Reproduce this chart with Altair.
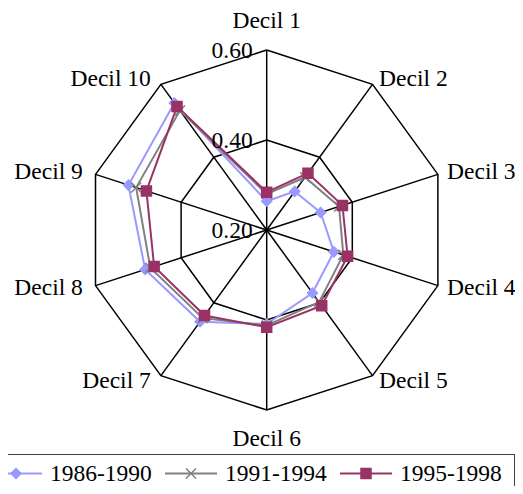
import altair as alt
import pandas as pd

# ---------------- data ----------------
categories = ["Decil 1", "Decil 2", "Decil 3", "Decil 4", "Decil 5",
              "Decil 6", "Decil 7", "Decil 8", "Decil 9", "Decil 10"]
series_names = ["1986-1990", "1991-1994", "1995-1998"]
v_1986_1990 = [0.264, 0.306, 0.326, 0.357, 0.373, 0.409, 0.452, 0.484, 0.523, 0.549]
v_1991_1994 = [0.280, 0.345, 0.369, 0.379, 0.398, 0.412, 0.442, 0.472, 0.505, 0.528]
v_1995_1998 = [0.284, 0.356, 0.377, 0.389, 0.408, 0.416, 0.435, 0.463, 0.481, 0.539]
ticks = [0.20, 0.40, 0.60]
tick_labels = ["0.20", "0.40", "0.60"]

colors = ["#9999FF", "#808080", "#993366"]
shapes = ["diamond", "M-1,-1L1,1M-1,1L1,-1", "square"]
FONT = "Liberation Serif"
FS = 23.5

N = len(categories)
R_MIN, R_MAX = ticks[0], ticks[-1]

# ---------------- tables ----------------
rows = []
for name, vals in zip(series_names, [v_1986_1990, v_1991_1994, v_1995_1998]):
    for k in range(N + 1):
        rows.append({"series": name, "k": k, "value": vals[k % N]})
series_df = pd.DataFrame(rows)

ring_rows = []
for lvl in ticks[1:]:
    for k in range(N + 1):
        ring_rows.append({"level": lvl, "k": k})
ring_df = pd.DataFrame(ring_rows)

cat_df = pd.DataFrame({"k": list(range(N)), "label": categories})
tick_df = pd.DataFrame({"level": ticks, "label": tick_labels})
legend_df = pd.DataFrame({"series": series_names, "i": list(range(len(series_names)))})

# ---------------- geometry (px per radial unit) ----------------
W, H = 507, 478
CX, CY, RPX = 258.7, 222.0, 180.0
xdom = [-CX / RPX, (W - CX) / RPX]
ydom = [-(H - CY) / RPX, CY / RPX]
xs = alt.Scale(domain=xdom, nice=False, zero=False)
ys = alt.Scale(domain=ydom, nice=False, zero=False)

ANG = f"datum.k * 2 * PI / {N}"
RAD = f"(datum.value - {R_MIN}) / ({R_MAX} - {R_MIN})"

color_scale = alt.Scale(domain=series_names, range=colors)
shape_scale = alt.Scale(domain=series_names, range=shapes)

X = lambda f: alt.X(f, scale=xs, axis=None)
Y = lambda f: alt.Y(f, scale=ys, axis=None)

rings = alt.Chart(ring_df).transform_calculate(
    r=f"(datum.level - {R_MIN}) / ({R_MAX} - {R_MIN})",
    ang=ANG,
).transform_calculate(
    x="datum.r * sin(datum.ang)", y="datum.r * cos(datum.ang)"
).mark_line(color="black", strokeWidth=1.5).encode(
    x=X("x:Q"), y=Y("y:Q"), detail="level:N", order="k:Q",
)

spokes = alt.Chart(cat_df).transform_calculate(
    ang=ANG, x0="0", y0="0"
).transform_calculate(
    x="sin(datum.ang)", y="cos(datum.ang)"
).mark_rule(color="black", strokeWidth=1.5).encode(
    x=X("x0:Q"), y=Y("y0:Q"), x2="x:Q", y2="y:Q",
)

tick_text = alt.Chart(tick_df).transform_calculate(
    x="0", y=f"(datum.level - {R_MIN}) / ({R_MAX} - {R_MIN})"
).mark_text(font=FONT, fontSize=FS, align="right", baseline="middle",
            dx=-14, dy=1, color="black").encode(
    x=X("x:Q"), y=Y("y:Q"), text="label:N",
)


def cat_labels(filter_expr, align, roff, dx):
    return alt.Chart(cat_df).transform_calculate(
        ang=ANG
    ).transform_filter(filter_expr).transform_calculate(
        x=f"(1 + {roff}) * sin(datum.ang)", y=f"(1 + {roff}) * cos(datum.ang)"
    ).mark_text(font=FONT, fontSize=FS, align=align, baseline="middle",
                dx=dx, color="black").encode(
        x=X("x:Q"), y=Y("y:Q"), text="label:N",
    )


lab_c = cat_labels("abs(sin(datum.ang)) < 0.01", "center", 29 / RPX, 0)
lab_r = cat_labels("sin(datum.ang) >= 0.01", "left", 7 / RPX, 2.5)
lab_l = cat_labels("sin(datum.ang) <= -0.01", "right", 7 / RPX, -6)

series_base = alt.Chart(series_df).transform_calculate(
    ang=ANG, r=RAD
).transform_calculate(
    x="datum.r * sin(datum.ang)", y="datum.r * cos(datum.ang)"
)

lines = series_base.mark_line(strokeWidth=2).encode(
    x=X("x:Q"), y=Y("y:Q"),
    color=alt.Color("series:N", scale=color_scale, legend=None),
    order="k:Q",
)

points = series_base.transform_filter(f"datum.k < {N}").mark_point(
    filled=True, opacity=1, size=100, strokeWidth=1.5
).encode(
    x=X("x:Q"), y=Y("y:Q"),
    fill=alt.Fill("series:N", scale=color_scale, legend=None),
    stroke=alt.Stroke("series:N", scale=color_scale, legend=None),
    shape=alt.Shape("series:N", scale=shape_scale, legend=None),
)

# ---------------- legend (inside the same view) ----------------
STEP = 175
LEG_TOP = 446
LEG_MID = 465.5
LEG_BASE = 472.5
leg_base = alt.Chart(legend_df).transform_calculate(
    x1=f"(max(0, datum.i * {STEP} - 18) - {CX}) / {RPX}",
    x2=f"(datum.i * {STEP} + 34 - {CX}) / {RPX}",
    mx=f"(datum.i * {STEP} + 8 - {CX}) / {RPX}",
    tx=f"(datum.i * {STEP} + 42 - {CX}) / {RPX}",
)
frame_top = alt.Chart(legend_df).mark_rule(color="#404040", strokeWidth=1).encode(
    x=alt.value(0), x2=alt.value(W), y=alt.value(LEG_TOP + 0.5)
)
frame_right = alt.Chart(legend_df).mark_rule(color="#404040", strokeWidth=1).encode(
    x=alt.value(W - 0.5), y=alt.value(LEG_TOP), y2=alt.value(H)
)
leg_lines = leg_base.mark_rule(strokeWidth=2).encode(
    x=X("x1:Q"), x2="x2:Q", y=alt.value(LEG_MID),
    color=alt.Color("series:N", scale=color_scale, legend=None),
)
leg_points = leg_base.mark_point(filled=True, opacity=1, size=100, strokeWidth=1.5).encode(
    x=X("mx:Q"), y=alt.value(LEG_MID),
    fill=alt.Fill("series:N", scale=color_scale, legend=None),
    stroke=alt.Stroke("series:N", scale=color_scale, legend=None),
    shape=alt.Shape("series:N", scale=shape_scale, legend=None),
)
leg_text = leg_base.mark_text(font=FONT, fontSize=FS, align="left", baseline="alphabetic",
                              color="black").encode(
    x=X("tx:Q"), y=alt.value(LEG_BASE), text="series:N",
)

chart = alt.layer(
    rings, spokes, lines, points, tick_text, lab_c, lab_r, lab_l,
    frame_top, frame_right, leg_lines, leg_points, leg_text,
).properties(
    width=W, height=H, padding=0,
    autosize=alt.AutoSizeParams(type="none"),
).configure_view(stroke=None)

chart.save("out.html", embed_options={"renderer": "svg", "actions": False})
